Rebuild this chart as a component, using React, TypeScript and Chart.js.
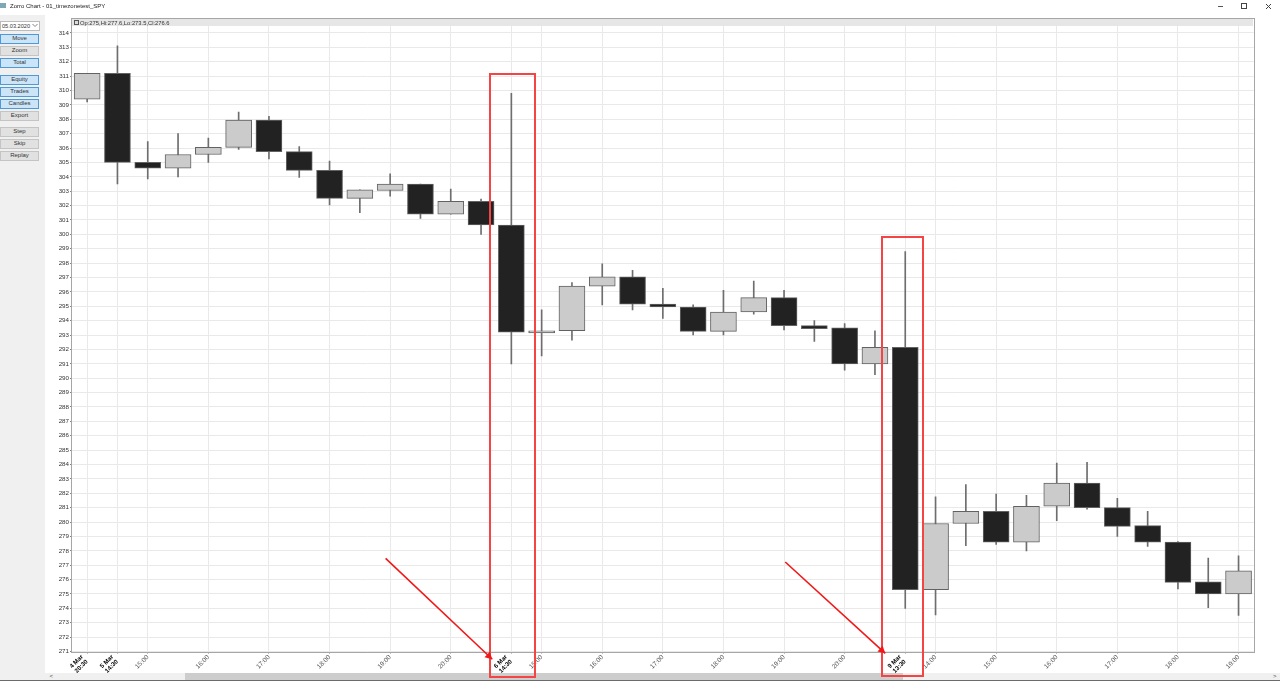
import React, { useEffect, useRef } from "react";
import { Chart, registerables } from "chart.js";

Chart.register(...registerables);

const categories: (string | string[])[] = [
  ["4 Mar", "20:30"], ["5 Mar", "14:30"], "15:00", "15:30", "16:00", "16:30", "17:00", "17:30", "18:00", "18:30",
  "19:00", "19:30", "20:00", "20:30", ["6 Mar", "14:30"], "15:00", "15:30", "16:00", "16:30", "17:00",
  "17:30", "18:00", "18:30", "19:00", "19:30", "20:00", "20:30", ["9 Mar", "13:30"], "14:00", "14:30",
  "15:00", "15:30", "16:00", "16:30", "17:00", "17:30", "18:00", "18:30", "19:00",
];
const labelledIndices = [0, 1, 2, 4, 6, 8, 10, 12, 14, 15, 17, 19, 21, 23, 25, 27, 28, 30, 32, 34, 36, 38];

const opens = [
  309.4, 311.2, 305.0, 304.6, 305.55, 306.05, 307.95, 305.75, 304.45, 302.5,
  303.05, 303.5, 301.4, 302.3, 300.65, 293.15, 293.3, 296.4, 297.05, 295.15,
  294.95, 293.25, 294.6, 295.6, 293.65, 293.5, 291.0, 292.15, 275.3, 279.9,
  280.75, 278.6, 281.1, 282.7, 281.0, 279.75, 278.6, 275.85, 275.0,
];
const closes = [
  311.2, 305.0, 304.6, 305.55, 306.05, 307.95, 305.75, 304.45, 302.5, 303.1,
  303.5, 301.4, 302.3, 300.65, 293.2, 293.3, 296.4, 297.05, 295.15, 294.95,
  293.25, 294.6, 295.6, 293.65, 293.45, 291.0, 292.15, 275.3, 279.9, 280.75,
  278.6, 281.1, 282.7, 281.0, 279.7, 278.6, 275.8, 275.0, 276.6,
];
const highs = [
  311.2, 313.1, 306.45, 307.0, 306.7, 308.5, 308.2, 306.1, 305.1, 303.1,
  304.2, 303.5, 303.15, 302.45, 309.8, 294.75, 296.65, 297.95, 297.5, 296.25,
  295.1, 296.1, 296.75, 296.1, 294.0, 293.8, 293.3, 298.8, 281.75, 282.6,
  281.95, 281.85, 284.1, 284.15, 281.65, 280.75, 278.65, 277.5, 277.65,
];
const lows = [
  309.2, 303.5, 303.85, 304.0, 305.0, 305.9, 305.25, 303.95, 302.05, 301.5,
  302.65, 301.1, 301.4, 300.0, 291.0, 291.55, 292.65, 295.1, 294.75, 294.15,
  293.0, 293.0, 294.45, 293.35, 292.55, 290.55, 290.25, 274.0, 273.55, 278.35,
  278.45, 278.0, 280.1, 280.9, 279.0, 278.3, 275.35, 274.05, 273.5,
];
const yTickValues = [
  271, 272, 273, 274, 275, 276, 277, 278, 279, 280, 281, 282, 283, 284, 285, 286, 287, 288, 289, 290, 291, 292,
  293, 294, 295, 296, 297, 298, 299, 300, 301, 302, 303, 304, 305, 306, 307, 308, 309, 310, 311, 312, 313, 314,
];

// Red annotations, in data units (category index, price)
const boxXFrom = [13.29, 26.24];
const boxXTo = [14.76, 27.6];
const boxTop = [311.16, 299.8];
const boxBottom = [269.25, 269.25];
const arrowXFrom = [9.85, 23.04];
const arrowYFrom = [277.47, 277.22];
const arrowXTo = [13.37, 26.34];
const arrowYTo = [270.46, 270.87];

const buttons: [string, number, boolean][] = [
  ["Move", 34, true], ["Zoom", 46, false], ["Total", 58, true],
  ["Equity", 75, true], ["Trades", 87, true], ["Candles", 99, true], ["Export", 111, false],
  ["Step", 127, false], ["Skip", 139, false], ["Replay", 151, false],
];

const FONT = '"Liberation Sans", Arial, sans-serif';

const decorations = {
  id: "decorations",
  beforeDraw(chart: any) {
    // nudge the two-line date labels so that they end at their tick, as in the source chart
    const items = chart.scales.x.getLabelItems(chart.chartArea);
    items.forEach((item: any) => {
      if (Array.isArray(item.label) && !item.nudged) {
        item.options.translation = [item.options.translation[0] - 5, item.options.translation[1]];
        item.nudged = true;
      }
    });
  },
  afterDatasetsDraw(chart: any) {
    const { ctx, chartArea: a } = chart;
    ctx.save();
    ctx.strokeStyle = "#a6a6a6";
    ctx.lineWidth = 1;
    ctx.strokeRect(Math.round(a.left) - 0.5, Math.round(a.top) + 0.5, Math.round(a.right - a.left) + 1, Math.round(a.bottom - a.top));
    ctx.restore();
  },
  afterDraw(chart: any) {
    const { ctx, scales } = chart;
    const x = scales.x;
    const y = scales.y;
    ctx.save();
    ctx.strokeStyle = "#f54444";
    ctx.lineWidth = 2;
    boxXFrom.forEach((_, i) => {
      const l = x.getPixelForValue(boxXFrom[i]);
      const r = x.getPixelForValue(boxXTo[i]);
      const t = y.getPixelForValue(boxTop[i]);
      const b = y.getPixelForValue(boxBottom[i]);
      ctx.strokeRect(Math.round(l), Math.round(t), Math.round(r - l), Math.round(b - t));
    });
    ctx.strokeStyle = "#f01818";
    ctx.fillStyle = "#f01818";
    ctx.lineWidth = 1.6;
    arrowXFrom.forEach((_, i) => {
      const x0 = x.getPixelForValue(arrowXFrom[i]);
      const y0 = y.getPixelForValue(arrowYFrom[i]);
      const x1 = x.getPixelForValue(arrowXTo[i]);
      const y1 = y.getPixelForValue(arrowYTo[i]);
      ctx.beginPath();
      ctx.moveTo(x0, y0);
      ctx.lineTo(x1, y1);
      ctx.stroke();
      const ang = Math.atan2(y1 - y0, x1 - x0);
      ctx.beginPath();
      ctx.moveTo(x1, y1);
      ctx.lineTo(x1 - 8 * Math.cos(ang - 0.5), y1 - 8 * Math.sin(ang - 0.5));
      ctx.lineTo(x1 - 8 * Math.cos(ang + 0.5), y1 - 8 * Math.sin(ang + 0.5));
      ctx.closePath();
      ctx.fill();
    });
    ctx.restore();
  },
};

function Btn({ label, top, active }: { label: string; top: number; active: boolean }) {
  return (
    <div
      style={{
        position: "absolute", left: 0, top, width: 37, height: 7.5, lineHeight: "7.5px", textAlign: "center",
        fontSize: 6, fontFamily: FONT, color: "#333",
        background: active ? "#cce4f7" : "#e1e1e1",
        border: `1px solid ${active ? "#4f9ad6" : "#c4c4c4"}`,
      }}
    >
      {label}
    </div>
  );
}

export default function App() {
  const ref = useRef<HTMLCanvasElement | null>(null);
  useEffect(() => {
    if (!ref.current) return;
    const colours = opens.map((o, i) => (closes[i] >= o ? "#cbcbcb" : "#222222"));
    const chart = new Chart(ref.current, {
      type: "bar",
      data: {
        labels: categories as any,
        datasets: [
          {
            label: "Wick",
            data: lows.map((l, i) => [l, highs[i]]) as any,
            backgroundColor: "#6e6e6e",
            borderWidth: 0,
            barThickness: 1,
            grouped: false,
            order: 2,
          } as any,
          {
            label: "Body",
            data: opens.map((o, i) => [o, closes[i]]) as any,
            backgroundColor: colours,
            borderColor: "#626262",
            borderWidth: 1,
            borderSkipped: false,
            barThickness: 26,
            grouped: false,
            order: 1,
          } as any,
        ],
      },
      options: {
        animation: false,
        responsive: false,
        devicePixelRatio: 1,
        events: [],
        layout: { padding: { left: 42, right: 26.3, top: 18, bottom: 0 } },
        plugins: { legend: { display: false }, tooltip: { enabled: false }, title: { display: false } },
        scales: {
          x: {
            type: "category",
            offset: true,
            afterBuildTicks(scale: any) {
              scale.ticks = scale.ticks.filter((t: any) => labelledIndices.includes(t.value));
            },
            afterFit(scale: any) {
              scale.height = 29.5;
            },
            grid: { color: "#e9e9e9", lineWidth: 1, tickColor: "#808080", tickLength: 2, offset: false },
            border: { display: false },
            ticks: {
              autoSkip: false,
              minRotation: 45,
              maxRotation: 45,
              padding: 0,
              color: (c: any) => (Array.isArray(c.tick?.label) ? "#000" : "#555"),
              font: (c: any) =>
                Array.isArray(c.tick?.label)
                  ? { family: FONT, size: 6.2, weight: "bold", lineHeight: 1.1 }
                  : { family: FONT, size: 6.5 },
            },
          },
          y: {
            type: "linear",
            min: 271,
            max: 315.04,
            afterBuildTicks(scale: any) {
              scale.ticks = yTickValues.map((value) => ({ value }));
            },
            afterFit(scale: any) {
              scale.width = 30;
            },
            grid: { color: "#e9e9e9", lineWidth: 1, tickColor: "#808080", tickLength: 2 },
            border: { display: false },
            ticks: {
              autoSkip: false,
              padding: 1,
              color: "#333",
              font: { family: FONT, size: 6.2 },
            },
          },
        },
      } as any,
      plugins: [decorations],
    });
    return () => chart.destroy();
  }, []);

  return (
    <div style={{ position: "absolute", left: 0, top: 0, width: 1280, height: 681, overflow: "hidden", background: "#fff" }}>
      {/* bottom scrollbar, behind the chart's red boxes */}
      <div style={{ position: "absolute", left: 45, top: 672.5, width: 1235, height: 7, background: "#f0f0f0" }} />
      <div style={{ position: "absolute", left: 185, top: 672.5, width: 718, height: 7, background: "#cdcdcd" }} />
      <div style={{ position: "absolute", left: 49.5, top: 672, fontSize: 6, lineHeight: "8px", fontFamily: FONT, color: "#444" }}>{"<"}</div>
      <div style={{ position: "absolute", left: 1273, top: 672, fontSize: 6, lineHeight: "8px", fontFamily: FONT, color: "#444" }}>{">"}</div>
      <div style={{ position: "absolute", left: 0, top: 679.5, width: 1280, height: 1.5, background: "#6b6b6b" }} />

      <canvas ref={ref} width={1280} height={681} style={{ position: "absolute", left: 0, top: 0, width: 1280, height: 681 }} />

      {/* window title bar */}
      <div style={{ position: "absolute", left: 0, top: 3, width: 6, height: 5, background: "#7fa7b5" }} />
      <div style={{ position: "absolute", left: 10, top: 1.5, fontSize: 6, lineHeight: "9px", fontFamily: FONT, color: "#222" }}>
        Zorro Chart - 01_timezonetest_SPY
      </div>
      <div style={{ position: "absolute", left: 1218, top: 6, width: 5, height: 1, background: "#555" }} />
      <div style={{ position: "absolute", left: 1241, top: 3, width: 4, height: 4, border: "1px solid #444" }} />
      <svg style={{ position: "absolute", left: 1264.5, top: 2.5 }} width={7} height={7}>
        <path d="M1 1 L6 6 M6 1 L1 6" stroke="#444" strokeWidth={1} />
      </svg>

      {/* left control panel */}
      <div style={{ position: "absolute", left: 0, top: 15, width: 45, height: 664.5, background: "#f0f0f0" }} />
      <div
        style={{
          position: "absolute", left: 0, top: 20.5, width: 37, height: 8, lineHeight: "8px", background: "#fff",
          border: "1px solid #bbb", fontSize: 5.6, fontFamily: FONT, color: "#333", paddingLeft: 1,
        }}
      >
        05.03.2020
      </div>
      <svg style={{ position: "absolute", left: 32, top: 23 }} width={6} height={5}>
        <path d="M0.5 1 L3 3.5 L5.5 1" stroke="#666" fill="none" strokeWidth={0.8} />
      </svg>
      {buttons.map(([label, top, active]) => (
        <Btn key={label} label={label} top={top} active={active} />
      ))}

      {/* chart header band */}
      <div style={{ position: "absolute", left: 72, top: 19, width: 1181, height: 7, background: "#e6e6e6" }} />
      <div style={{ position: "absolute", left: 74, top: 20, width: 3, height: 3, border: "1px solid #555", background: "#ddd" }} />
      <div style={{ position: "absolute", left: 80, top: 18.5, lineHeight: "8px", fontSize: 5.8, fontFamily: FONT, color: "#333" }}>
        Op:275,Hi:277.6,Lo:273.5,Cl:276.6
      </div>
    </div>
  );
}
